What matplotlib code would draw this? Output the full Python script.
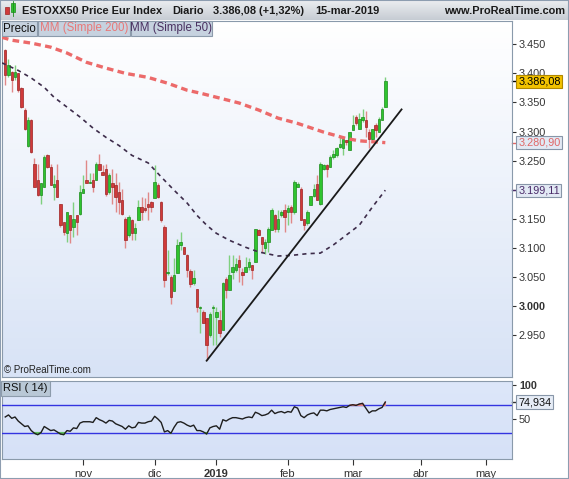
import matplotlib.pyplot as plt
import numpy as np
from matplotlib.colors import LinearSegmentedColormap
from matplotlib.patches import Rectangle

plt.rcParams['font.family'] = ['Liberation Sans', 'DejaVu Sans']

# daily candles, 28-sep-2018 .. 15-mar-2019 (index = trading day)
opens = [3440, 3397, 3402, 3394, 3400, 3374, 3337, 3275, 3320, 3245,
         3216, 3191, 3205, 3259, 3239, 3205, 3216, 3176, 3145, 3125,
         3156, 3136, 3156, 3159, 3194, 3216, 3211, 3216, 3216, 3245,
         3231, 3236, 3196, 3211, 3208, 3196, 3182, 3150, 3122, 3148,
         3126, 3148, 3171, 3169, 3176, 3179, 3185, 3208, 3179, 3136,
         3056, 3050, 3025, 3056, 3105, 3101, 3087, 3060, 3039, 3030,
         2997, 2990, 2979, 2950, 2996, 2981, 2976, 2959, 3047, 3027,
         3059, 3062, 3079, 3059, 3059, 3067, 3070, 3076, 3130, 3119,
         3099, 3110, 3130, 3156, 3133, 3156, 3165, 3162, 3170, 3162,
         3205, 3202, 3150, 3142, 3173, 3190, 3210, 3176, 3236, 3242,
         3239, 3256, 3259, 3274, 3271, 3285, 3268, 3302, 3325, 3305,
         3319, 3319, 3299, 3288, 3311, 3299, 3319, 3342]
highs = [3442, 3425, 3404, 3414, 3401, 3376, 3340, 3325, 3321, 3254,
         3245, 3211, 3259, 3262, 3245, 3225, 3245, 3176, 3145, 3162,
         3156, 3179, 3156, 3208, 3225, 3251, 3228, 3228, 3248, 3262,
         3242, 3245, 3228, 3236, 3228, 3213, 3202, 3153, 3156, 3150,
         3142, 3182, 3188, 3185, 3196, 3180, 3242, 3211, 3180, 3139,
         3096, 3053, 3082, 3116, 3128, 3102, 3090, 3064, 3062, 3030,
         3000, 2993, 2979, 2990, 3002, 2999, 2993, 3042, 3050, 3087,
         3087, 3082, 3087, 3065, 3085, 3082, 3071, 3133, 3133, 3119,
         3116, 3136, 3168, 3159, 3165, 3165, 3176, 3173, 3173, 3216,
         3213, 3205, 3150, 3165, 3190, 3210, 3225, 3248, 3245, 3245,
         3259, 3268, 3274, 3291, 3288, 3285, 3299, 3328, 3328, 3331,
         3339, 3336, 3305, 3305, 3314, 3325, 3342, 3394]
lows = [3380, 3394, 3368, 3388, 3368, 3340, 3302, 3274, 3263, 3205,
        3190, 3176, 3205, 3237, 3208, 3182, 3188, 3136, 3122, 3110,
        3108, 3119, 3122, 3156, 3194, 3211, 3211, 3196, 3216, 3234,
        3225, 3190, 3193, 3176, 3162, 3159, 3156, 3099, 3119, 3113,
        3113, 3148, 3148, 3162, 3148, 3162, 3185, 3185, 3145, 3033,
        3053, 3004, 3025, 3056, 3096, 3090, 3050, 3033, 3036, 2990,
        2953, 2970, 2907, 2947, 2933, 2933, 2947, 2959, 3013, 3027,
        3047, 3059, 3042, 3036, 3059, 3062, 3047, 3076, 3122, 3093,
        3090, 3093, 3130, 3127, 3127, 3153, 3127, 3139, 3142, 3159,
        3205, 3148, 3130, 3139, 3173, 3188, 3182, 3173, 3233, 3222,
        3239, 3253, 3256, 3271, 3259, 3276, 3268, 3302, 3311, 3305,
        3316, 3291, 3271, 3285, 3291, 3299, 3319, 3342]
closes = [3397, 3414, 3388, 3402, 3371, 3342, 3305, 3320, 3265, 3205,
          3191, 3211, 3257, 3239, 3208, 3210, 3188, 3139, 3128, 3162,
          3130, 3150, 3145, 3196, 3202, 3211, 3214, 3205, 3245, 3234,
          3225, 3193, 3225, 3205, 3188, 3179, 3159, 3113, 3153, 3125,
          3135, 3171, 3162, 3165, 3171, 3171, 3214, 3188, 3148, 3044,
          3059, 3016, 3053, 3105, 3110, 3090, 3062, 3038, 3049, 2999,
          2999, 2970, 2933, 2987, 2999, 2990, 2953, 3039, 3027, 3053,
          3067, 3073, 3067, 3053, 3067, 3076, 3062, 3133, 3122, 3107,
          3110, 3133, 3165, 3133, 3150, 3162, 3153, 3168, 3162, 3213,
          3210, 3148, 3139, 3162, 3190, 3202, 3182, 3245, 3242, 3236,
          3256, 3262, 3271, 3279, 3288, 3282, 3299, 3311, 3314, 3322,
          3325, 3308, 3288, 3305, 3302, 3322, 3339, 3386.08]

rsi = [53, 56, 51, 53, 47, 43, 39, 40, 33, 29, 27, 30, 39, 36, 33, 34, 31, 28, 27, 33,
       32, 37, 36, 44, 46, 46, 46, 45, 52, 49, 47, 44, 48, 47, 43, 41, 39, 35, 40, 37,
       38, 45, 44, 44, 46, 47, 54, 50, 45, 31, 33, 29, 38, 45, 46, 44, 41, 39, 41, 33,
       33, 31, 28, 37, 39, 40, 35, 49, 47, 50, 52, 52, 51, 50, 52, 53, 52, 60, 58, 55,
       56, 58, 63, 58, 60, 61, 59, 61, 60, 68, 66, 55, 52, 56, 58, 59, 55, 63, 63, 62,
       64, 65, 66, 67, 68, 67, 70, 71, 70, 72, 73, 66, 59, 62, 62, 65, 67, 74.934]

ma200_idx = [-1, 2, 8, 14, 19, 25, 31, 37, 44, 50, 56, 60, 72, 78, 84, 90, 98, 105, 109, 117]
ma200_val = [3462, 3457, 3452, 3445, 3435, 3419, 3409, 3400, 3393, 3383,
             3371, 3366, 3349, 3337, 3323, 3314, 3299, 3288, 3284, 3280.90]
ma50_idx = [-1, 4, 8, 12, 15, 19, 23, 27, 31, 35, 39, 44, 48, 52, 56,
            59, 62, 65, 69, 74, 78, 84, 88, 93, 97, 101, 105, 109, 113, 117]
ma50_val = [3418, 3405, 3392, 3376, 3359, 3342, 3325, 3306, 3290, 3276, 3259, 3246, 3222, 3199, 3177,
            3156, 3139, 3125, 3113, 3101, 3093, 3086, 3087, 3090, 3091, 3105, 3122, 3139, 3170, 3199.11]

trend_idx = [62, 122]
trend_val = [2906, 3338]

month_idx = [24, 46, 65, 87, 107, 128, 148]
month_lbl = ['nov', 'dic', '2019', 'feb', 'mar', 'abr', 'may']
price_ticks = [2950, 3000, 3050, 3100, 3150, 3200, 3250, 3300, 3350, 3400, 3450]

W, H = 569, 479
fig = plt.figure(figsize=(W / 100, H / 100), dpi=100)
fig.patch.set_facecolor('white')


def box(l, t, r, b):
    return [l / W, 1 - b / H, (r - l) / W, (b - t) / H]


def gradient(a, top, bottom):
    cm = LinearSegmentedColormap.from_list('g', [top, bottom])
    a.imshow(np.linspace(0, 1, 64).reshape(-1, 1), cmap=cm, aspect='auto',
             extent=[0, 1, 0, 1], transform=a.transAxes, zorder=0)


ax = fig.add_axes(box(2, 21, 512, 377))
ax2 = fig.add_axes(box(2, 381, 512, 459))
hdr = fig.add_axes(box(0, 0, 569, 20))
gradient(ax, '#ffffff', '#d8e3f6')
gradient(ax2, '#dde7fa', '#d6e1f7')
gradient(hdr, '#eceef1', '#c6ccd3')

# candles
x = np.arange(len(closes))
o, h, l, c = map(np.array, (opens, highs, lows, closes))
up = c >= o
ax.vlines(x, l, h, colors=np.where(up, '#7fd07f', '#e08888'), lw=1, zorder=3)
ax.bar(x, np.maximum(np.abs(c - o), 1.5), bottom=np.minimum(o, c), width=0.74,
       color=np.where(up, '#2fc42f', '#d03a3a'), edgecolor=np.where(up, '#1d8a1d', '#9c2424'),
       lw=0.5, zorder=4)

ax.plot(ma200_idx, ma200_val, color='#ec6a6a', lw=2.4, dashes=(2, 1.3), zorder=5)
ax.plot(ma50_idx, ma50_val, color='#3d2c4a', lw=1.2, dashes=(2.5, 2.5), zorder=5)
ax.plot(trend_idx, trend_val, color='#1a1a1a', lw=1.3, zorder=6)

ax.set_xlim(-1, 156)
ax.set_ylim(2878, 3490)
ax.yaxis.tick_right()
ax.set_yticks(price_ticks)
# 3.200 sits under the MM50 tag in the original, so leave it blank
ax.set_yticklabels(['' if v == 3200 else f"{v / 1000:.3f}" for v in price_ticks])
for t in ax.get_yticklabels():
    if t.get_text() == '3.000':
        t.set_fontweight('bold')
ax.tick_params(axis='y', length=3, pad=2, labelsize=7.8, colors='#333333')
ax.tick_params(axis='x', bottom=False, labelbottom=False)
for s in ax.spines.values():
    s.set_color('#8a9aab')

# value tags on the right axis
tags = [(closes[-1], '#000000', '#f2c200', '#b08800'),
        (ma200_val[-1], '#e06666', '#e2e9f4', '#8896a8'),
        (ma50_val[-1], '#4a2a68', '#e2e9f4', '#8896a8')]
for v, tc, fc, ec in tags:
    s = f"{v:,.2f}".replace(',', ' ').replace('.', ',').replace(' ', '.')
    ax.plot([1.0, 1.008], [v, v], color=tc, lw=1, transform=ax.get_yaxis_transform(), clip_on=False)
    ax.text(1.012, v, s, transform=ax.get_yaxis_transform(), va='center', ha='left',
            fontsize=7.8, color=tc, zorder=10, clip_on=False,
            bbox=dict(boxstyle='square,pad=0.15', fc=fc, ec=ec, lw=0.8))

ax.text(0.003, 0.012, '© ProRealTime.com', transform=ax.transAxes, fontsize=7, color='#222222')

# legend boxes
for l_, r_, s, col in [(2, 37, 'Precio', '#111111'), (38, 130, 'MM (Simple 200)', '#e87878'),
                       (131, 212, 'MM (Simple 50)', '#4a3060')]:
    fig.add_artist(Rectangle((l_ / W, 1 - 36 / H), (r_ - l_) / W, 15 / H, transform=fig.transFigure,
                             fc='#c6d2df', ec='#8c9bab', lw=0.8, zorder=8))
    fig.text((l_ + r_) / 2 / W, 1 - 28.5 / H, s, ha='center', va='center', fontsize=8.3, color=col, zorder=9)

# RSI panel
ax2.plot(x, rsi, color='#1e1e1e', lw=1, zorder=4)
ax2.axhline(70, color='#3434e0', lw=1, zorder=3)
ax2.axhline(30, color='#3434e0', lw=1, zorder=3)
r = np.array(rsi)
ax2.fill_between(x, r, 70, where=r > 70, color='#e98080', interpolate=True, zorder=3)
ax2.fill_between(x, r, 30, where=r < 30, color='#60c060', interpolate=True, zorder=3)
ax2.set_xlim(-1, 156)
ax2.set_ylim(-8.8, 105.9)
ax2.yaxis.tick_right()
ax2.set_yticks([50, 100])
ax2.set_yticklabels(['50', '100'])
ax2.get_yticklabels()[1].set_fontweight('bold')
ax2.get_yticklabels()[1].set_fontsize(9)
ax2.tick_params(axis='y', length=3, pad=2, labelsize=7.8, colors='#333333')
ax2.set_xticks(month_idx)
ax2.set_xticklabels(month_lbl)
ax2.get_xticklabels()[2].set_fontweight('bold')
ax2.get_xticklabels()[2].set_fontsize(9)
ax2.tick_params(axis='x', length=4, pad=3, labelsize=8, colors='#333333')
for s in ax2.spines.values():
    s.set_color('#8a9aab')
ax2.plot([1.0, 1.008], [rsi[-1], rsi[-1]], color='#333333', lw=1,
         transform=ax2.get_yaxis_transform(), clip_on=False)
ax2.text(1.012, rsi[-1], f"{rsi[-1]:.3f}".replace('.', ','), transform=ax2.get_yaxis_transform(),
         va='center', ha='left', fontsize=7.8, color='#111111', clip_on=False, zorder=10,
         bbox=dict(boxstyle='square,pad=0.15', fc='#e6ecf6', ec='#8896a8', lw=0.8))
ax2.text(0.002, 0.97, 'RSI ( 14)', transform=ax2.transAxes, ha='left', va='top', fontsize=8,
         color='#111111', zorder=10,
         bbox=dict(boxstyle='square,pad=0.2', fc='#b9c8d6', ec='#8c9bab', lw=0.8))

# header bar
hdr.set_xlim(0, W)
hdr.set_ylim(20, 0)
hdr.axis('off')
hdr.add_patch(Rectangle((5, 7), 4, 7, fc='#d03a3a', ec='#9c2424', lw=0.5))
hdr.add_patch(Rectangle((11, 3), 4, 9, fc='#2fc42f', ec='#1d8a1d', lw=0.5))
hdr.plot([13, 13], [1, 16], color='#1d8a1d', lw=0.6)
head = [(22, 'ESTOXX50 Price Eur Index'), (172, 'Diario'),
        (213, f"{closes[-1]:,.2f}".replace(',', '.').replace('.08', ',08') + ' (+1,32%)'),
        (315, '15-mar-2019')]
for xp, s in head:
    hdr.text(xp, 10.5, s, ha='left', va='center', fontsize=7.9, fontweight='bold', color='#1a1a1a')
hdr.text(565, 10.5, 'www.ProRealTime.com', ha='right', va='center', fontsize=7.9,
         fontweight='bold', color='#1a1a1a')

fig.add_artist(Rectangle((0, 0), 1, 1, transform=fig.transFigure, fill=False, ec='#8d9db0', lw=1.5))
fig.savefig('out.png', dpi=100)
